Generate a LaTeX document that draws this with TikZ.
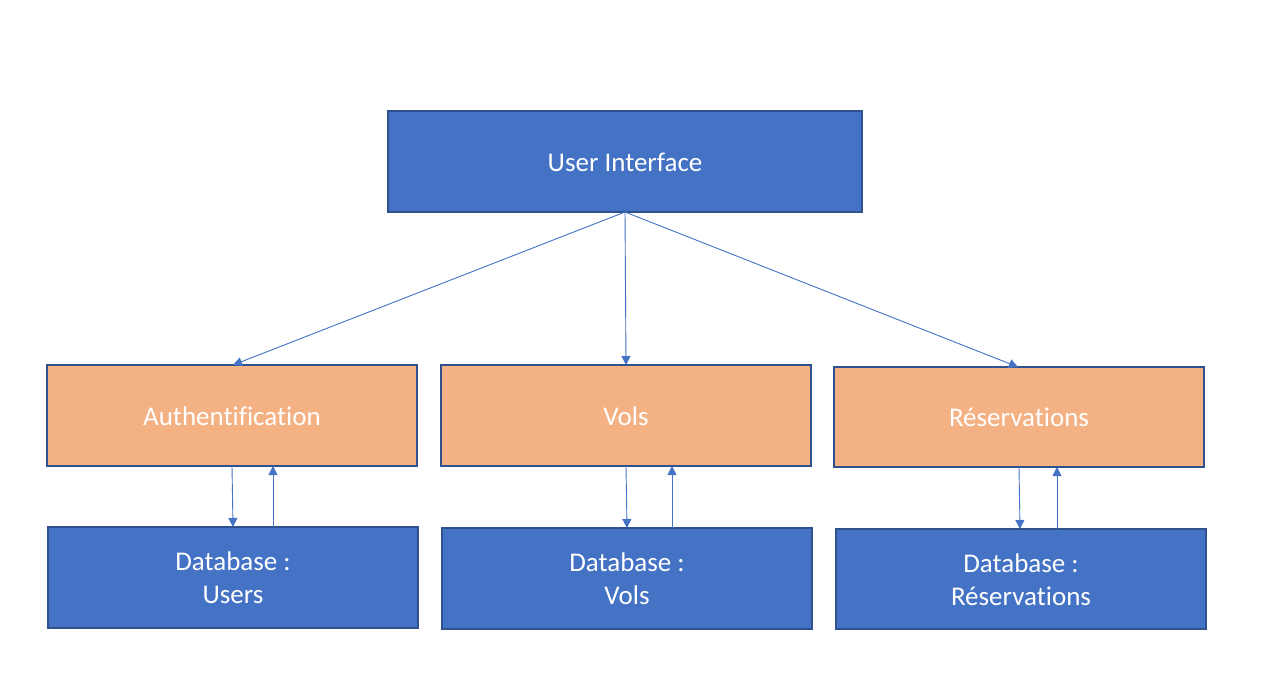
\documentclass[tikz,border=0pt]{standalone}
\usepackage{fontspec}
\setmainfont{Carlito}[Ligatures=NoCommon]
\usetikzlibrary{arrows.meta}
\definecolor{boxblue}{HTML}{4472C4}
\definecolor{boxedge}{HTML}{2F528F}
\definecolor{boxorange}{HTML}{F4B183}
\tikzset{
  bluebox/.style={draw=boxedge, line width=1.5pt, fill=boxblue},
  orangebox/.style={draw=boxedge, line width=1.5pt, fill=boxorange},
  lbl/.style={text=white, align=center, font=\fontsize{27}{33}\selectfont, inner sep=0pt},
  conn/.style={draw=boxblue, line width=0.9pt, -{Triangle[length=9pt,width=9pt]}},
}
\begin{document}
\begin{tikzpicture}[x=1pt,y=-1pt]
\useasboundingbox (0,0) rectangle (1266,695);
\path[bluebox] (388,111) rectangle (862,212);
\node[lbl] (ui) at (625,162) {User Interface};
\coordinate (uib) at (625,212);
% second row
\path[orangebox] (47,365) rectangle (417,466);
\node[lbl] (auth) at (232,416) {Authentification};
\path[orangebox] (441,365) rectangle (811,466);
\node[lbl] (vols) at (626,416) {Vols};
\path[orangebox] (834,367) rectangle (1204,467);
\node[lbl] (res) at (1019,417.5) {Réservations};
% third row
\path[bluebox] (48,527) rectangle (418,628);
\node[lbl] (dbu) at (233,578) {Database :\\Users};
\path[bluebox] (442,528) rectangle (812,629);
\node[lbl] (dbv) at (627,579) {Database :\\Vols};
\path[bluebox] (836,529) rectangle (1206,629);
\node[lbl] (dbr) at (1021,579.5) {Database :\\Réservations};
% coordinates
\coordinate (a1) at (233,365);
\coordinate (v1) at (626,365);
\coordinate (r1) at (1018,367);
\coordinate (ad0) at (232,466); \coordinate (ad1) at (233,527);
\coordinate (au0) at (273,527); \coordinate (au1) at (273,466);
\coordinate (vd0) at (626,466); \coordinate (vd1) at (627,528);
\coordinate (vu0) at (672,528); \coordinate (vu1) at (672,466);
\coordinate (rd0) at (1019,467); \coordinate (rd1) at (1020,529);
\coordinate (ru0) at (1057,529); \coordinate (ru1) at (1057,467);
\draw[conn] (uib) -- (a1);
\draw[conn] (uib) -- (v1);
\draw[conn] (uib) -- (r1);
\draw[conn] (ad0) -- (ad1);
\draw[conn] (au0) -- (au1);
\draw[conn] (vd0) -- (vd1);
\draw[conn] (vu0) -- (vu1);
\draw[conn] (rd0) -- (rd1);
\draw[conn] (ru0) -- (ru1);
\end{tikzpicture}
\end{document}
